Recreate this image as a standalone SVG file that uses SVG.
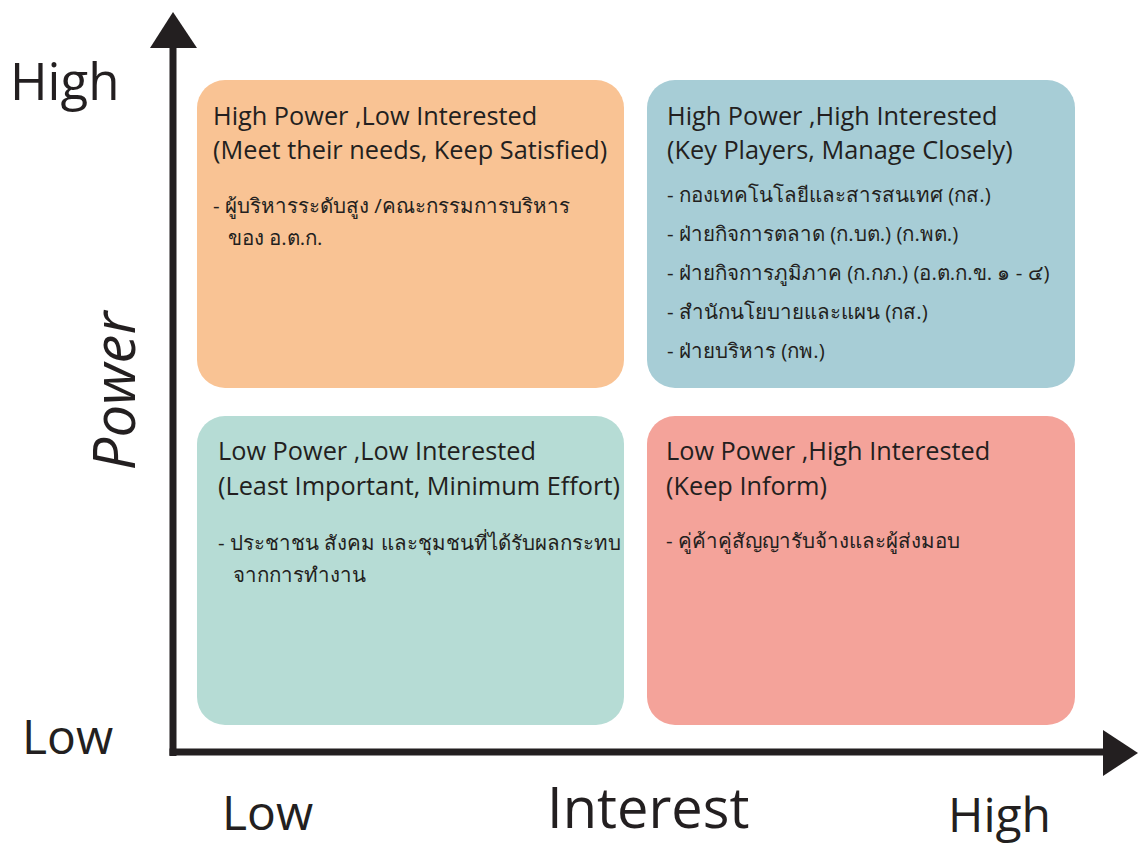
<svg xmlns="http://www.w3.org/2000/svg" width="1139" height="844" viewBox="0 0 1139 844">
<style>
text { font-family: "Open Sans", "Noto Sans", "DejaVu Sans", sans-serif; fill: #231f20; }
.title { font-size: 25.3px; }
.item { font-size: 20.5px; }
.axis { font-size: 48px; }
</style>
<rect width="1139" height="844" fill="#ffffff"/>
<g id="box-high-power-low-interest">
  <rect x="197" y="80" width="427" height="308" rx="28" fill="#F9C394"/>
  <text class="title" x="213" y="125">High Power ,Low Interested</text>
  <text class="title" x="213" y="159">(Meet their needs, Keep Satisfied)</text>
  <text class="item" x="213" y="213">- ผู้บริหารระดับสูง /คณะกรรมการบริหาร</text>
  <text class="item" x="228" y="245">ของ อ.ต.ก.</text>
</g>
<g id="box-high-power-high-interest">
  <rect x="647" y="80" width="428" height="308" rx="28" fill="#A7CDD6"/>
  <text class="title" x="667" y="125">High Power ,High Interested</text>
  <text class="title" x="667" y="159">(Key Players, Manage Closely)</text>
  <text class="item" x="667" y="202">- กองเทคโนโลยีและสารสนเทศ (กส.)</text>
  <text class="item" x="667" y="241">- ฝ่ายกิจการตลาด (ก.บต.) (ก.พต.)</text>
  <text class="item" x="667" y="280">- ฝ่ายกิจการภูมิภาค (ก.กภ.) (อ.ต.ก.ข. ๑ - ๔)</text>
  <text class="item" x="667" y="319">- สำนักนโยบายและแผน (กส.)</text>
  <text class="item" x="667" y="358">- ฝ่ายบริหาร (กพ.)</text>
</g>
<g id="box-low-power-low-interest">
  <rect x="197" y="416" width="427" height="309" rx="28" fill="#B6DCD5"/>
  <text class="title" x="218" y="460">Low Power ,Low Interested</text>
  <text class="title" x="218" y="495">(Least Important, Minimum Effort)</text>
  <text class="item" x="218" y="550">- ประชาชน สังคม และชุมชนที่ได้รับผลกระทบ</text>
  <text class="item" x="233" y="582">จากการทำงาน</text>
</g>
<g id="box-low-power-high-interest">
  <rect x="647" y="416" width="428" height="309" rx="28" fill="#F4A39A"/>
  <text class="title" x="666" y="460">Low Power ,High Interested</text>
  <text class="title" x="666" y="495">(Keep Inform)</text>
  <text class="item" x="666" y="548">- คู่ค้าคู่สัญญารับจ้างและผู้ส่งมอบ</text>
</g>
<g id="connectors" fill="#231f20" stroke="none">
  <rect x="169.5" y="44" width="7" height="712"/>
  <polygon points="173,12 150,48 197,48"/>
  <rect x="169.5" y="748.5" width="938" height="7"/>
  <polygon points="1138,753 1103,730 1103,776"/>
</g>
<g id="labels">
  <text class="axis" x="10" y="100" style="font-size:51px">High</text>
  <text class="axis" x="22" y="754">Low</text>
  <text class="axis" x="222" y="830">Low</text>
  <text class="axis" x="948" y="832">High</text>
  <text x="547" y="828" style="font-size:56px">Interest</text>
  <text x="0" y="0" transform="translate(135,391) rotate(-90)" text-anchor="middle" style="font-size:58px;font-style:italic">Power</text>
</g>
</svg>
